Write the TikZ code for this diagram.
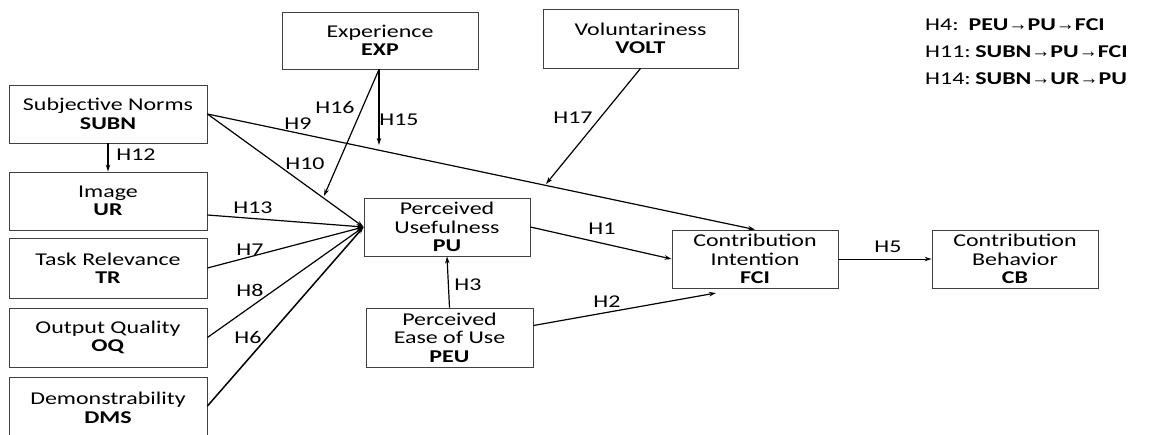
\documentclass[tikz,border=0pt]{standalone}
\usepackage{fontspec}
\setmainfont{Carlito}[FakeStretch=1.33]
\newfontfamily\arrfont{Liberation Sans}
\newcommand{\ra}{{\arrfont\mdseries\fontsize{19}{19}\selectfont →}}
\usetikzlibrary{arrows.meta,calc}
\begin{document}
\begin{tikzpicture}[x=1pt,y=-1pt,
  box/.style={draw=black!75,line width=0.9pt,fill=white,align=center,inner sep=1pt,
    font=\fontsize{18}{18.5}\selectfont},
  lbox/.style={box,minimum width=198pt,minimum height=58pt},
  mbox/.style={box,minimum width=166pt,minimum height=58pt},
  arr/.style={line width=1.2pt,-{Stealth[length=7pt,width=4.5pt]}},
  lab/.style={font=\fontsize{18}{18}\selectfont,inner sep=0pt}]
\useasboundingbox (0,0) rectangle (1149,434);
% boxes
\node[lbox] (SUBN) at (108,114) {Subjective Norms\\\textbf{SUBN}};
\node[lbox] (UR) at (108,201) {Image\\\textbf{UR}};
\node[lbox,minimum height=60pt] (TR) at (108,268) {Task Relevance\\\textbf{TR}};
\node[lbox,minimum height=59pt] (OQ) at (108,337.5) {Output Quality\\\textbf{OQ}};
\node[lbox,minimum height=62pt] (DMS) at (108,408) {Demonstrability\\\textbf{DMS}};
\node[box,minimum width=196pt,minimum height=57pt] (EXP) at (380,40.5) {Experience\\\textbf{EXP}};
\node[box,minimum width=195pt,minimum height=59pt] (VOLT) at (640.5,38.5) {Voluntariness\\\textbf{VOLT}};
\node[mbox] (PU) at (447,227) {Perceived\\Usefulness\\\textbf{PU}};
\node[mbox,minimum width=167pt,minimum height=59pt] (PEU) at (449.5,337.5) {Perceived\\Ease of Use\\\textbf{PEU}};
\node[mbox] (FCI) at (755,259) {Contribution\\Intention\\\textbf{FCI}};
\node[mbox] (CB) at (1015,259) {Contribution\\Behavior\\\textbf{CB}};
% free ends
\coordinate (e16) at (324,196);
\coordinate (e15) at (379,145);
\coordinate (e17) at (546,184);
\coordinate (e2) at (716,293);
% connectors
\draw[arr] (SUBN.east) -- (FCI.north);
\draw[arr] (SUBN.east) -- (PU.west);
\draw[arr,line width=1.8pt] (SUBN.south) -- (UR.north);
\draw[arr] ([yshift=-14pt]UR.east) -- (PU.west);
\draw[arr] (TR.east) -- (PU.west);
\draw[arr] (OQ.east) -- (PU.west);
\draw[arr,line width=1.5pt] ([yshift=2pt]DMS.east) -- (PU.west);
\draw[arr] ([xshift=-1pt]EXP.south) -- (e16);
\draw[arr] ([xshift=-1pt]EXP.south) -- (e15);
\draw[arr] (VOLT.south) -- (e17);
\draw[arr] (PU.east) -- (FCI.west);
\draw[arr] (PEU.north) -- (PU.south);
\draw[arr] ([yshift=12pt]PEU.east) -- (e2);
\draw[arr,line width=1pt] (FCI.east) -- (CB.west);
% labels
\node[lab] (l12) at (136,155) {H12};
\node[lab] (l16) at (335,107) {H16};
\node[lab] (l15) at (399,120) {H15};
\node[lab] (l9) at (298,124) {H9};
\node[lab] (l10) at (305,164) {H10};
\node[lab] (l13) at (253,208) {H13};
\node[lab] (l7) at (250,250) {H7};
\node[lab] (l8) at (250,290) {H8};
\node[lab] (l6) at (248,337) {H6};
\node[lab] (l17) at (573,118) {H17};
\node[lab] (l1) at (602,229) {H1};
\node[lab] (l3) at (468,285) {H3};
\node[lab] (l2) at (607,302) {H2};
\node[lab] (l5) at (888,247) {H5};
% legend
\node[lab,anchor=base west] (g4) at (925,30) {H4:\hspace{0.55em}\textbf{PEU\ra PU\ra FCI}};
\node[lab,anchor=base west] (g11) at (925,57) {H11:\hspace{0.25em}\textbf{SUBN\ra PU\ra FCI}};
\node[lab,anchor=base west] (g14) at (925,84) {H14:\hspace{0.25em}\textbf{SUBN\ra UR\ra PU}};
\end{tikzpicture}
\end{document}
